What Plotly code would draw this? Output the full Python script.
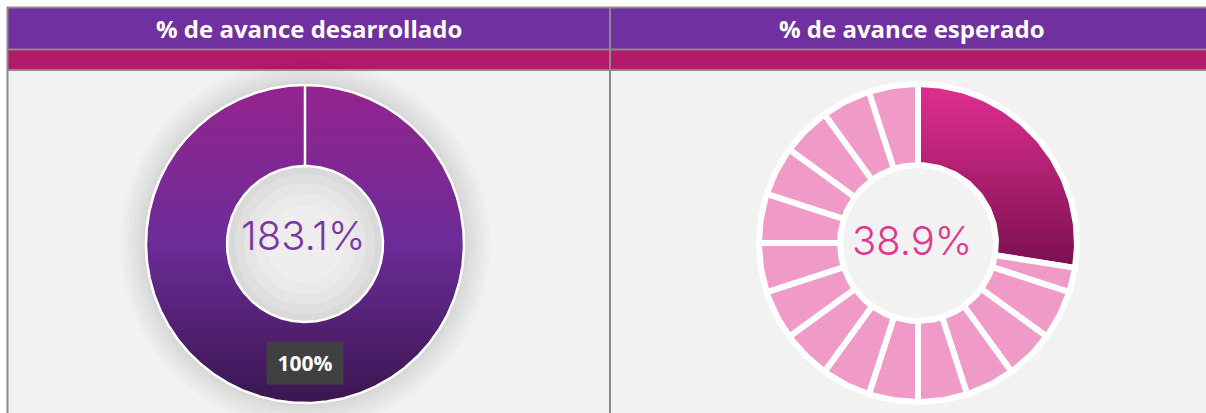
import numpy as np
import plotly.graph_objects as go

# ---------------- data ----------------
titles = ["% de avance desarrollado", "% de avance esperado"]
developed_values = [100]
developed_labels = ["100%"]
developed_center = "183.1%"
expected_values = [27.5, 2.5, 5, 5, 5, 5, 5, 5, 5, 5, 5, 5, 5, 5, 5, 5]
expected_center = "38.9%"

# ---------------- style ----------------
W, H = 1206, 413
PURPLE = "#7030A0"
MAGENTA = "#B31A69"
GRAY_LINE = "#8A8A8A"
PANEL_BG = "#F2F2F2"

L_CX, L_CY, L_R, L_RI = 305, 244, 159, 78
R_CX, R_CY, R_R, R_RI = 918, 243, 159, 78


def ring(cx, cy, r_in, r_out, a0, a1):
    n = max(int(abs(a1 - a0)) * 2, 8)
    t = np.radians(np.linspace(a0, a1, n))
    xo, yo = cx + r_out * np.sin(t), cy - r_out * np.cos(t)
    xi, yi = cx + r_in * np.sin(t[::-1]), cy - r_in * np.cos(t[::-1])
    x = np.concatenate([xo, xi, xo[:1]])
    y = np.concatenate([yo, yi, yo[:1]])
    return x, y


def angles(values):
    tot = float(sum(values))
    cum = np.concatenate([[0], np.cumsum(values)]) / tot * 360.0
    return list(zip(cum[:-1], cum[1:]))


fig = go.Figure()
shapes = []

# panel backgrounds / headers
shapes += [
    dict(type="rect", x0=8, x1=W, y0=70, y1=H, fillcolor=PANEL_BG, line_width=0, layer="below"),
    dict(type="rect", x0=8, x1=W, y0=8, y1=49, fillcolor=PURPLE, line_width=0, layer="below"),
    dict(type="rect", x0=8, x1=W, y0=50, y1=70, fillcolor=MAGENTA, line_width=0, layer="below"),
]

# soft halo around left donut
for extra in [26, 22, 18, 14, 10, 6, 3]:
    rr = L_R + extra
    shapes.append(dict(type="circle", x0=L_CX - rr, x1=L_CX + rr, y0=L_CY - rr, y1=L_CY + rr,
                       fillcolor="rgba(0,0,0,0.016)", line_width=0, layer="below"))
# shaded hole of left donut
for frac, col in [(1.0, "#D9D9D9"), (0.9, "#DFDFDF"), (0.78, "#E5E5E5"), (0.65, "#EAEAEA"), (0.5, "#EEEEEE")]:
    rr = L_RI * frac
    shapes.append(dict(type="circle", x0=L_CX - rr, x1=L_CX + rr, y0=L_CY - rr, y1=L_CY + rr,
                       fillcolor=col, line_width=0, layer="below"))

# left donut
for (a0, a1) in angles(developed_values):
    x, y = ring(L_CX, L_CY, L_RI, L_R, a0, a1)
    fig.add_trace(go.Scatter(
        x=x, y=y, mode="lines", fill="toself",
        line=dict(color="white", width=2.5),
        fillgradient=dict(type="vertical", start=float(y.min()), stop=float(y.max()),
                          colorscale=[[0, "#95248F"], [0.5, "#6B2C97"], [1, "#3A1650"]]),
        hoverinfo="skip", showlegend=False))

# right donut
for i, (a0, a1) in enumerate(angles(expected_values)):
    x, y = ring(R_CX, R_CY, R_RI, R_R, a0, a1)
    if i == 0:
        fig.add_trace(go.Scatter(
            x=x, y=y, mode="lines", fill="toself",
            line=dict(color="white", width=6),
            fillgradient=dict(type="vertical", start=float(y.min()), stop=float(y.max()),
                              colorscale=[[0, "#E02F8F"], [1, "#7A1050"]]),
            hoverinfo="skip", showlegend=False))
    else:
        fig.add_trace(go.Scatter(
            x=x, y=y, mode="lines", fill="toself", fillcolor="#F09AC8",
            line=dict(color="white", width=6),
            hoverinfo="skip", showlegend=False))

# grid lines
shapes += [
    dict(type="line", x0=7, x1=W, y0=7.5, y1=7.5, line=dict(color=GRAY_LINE, width=2)),
    dict(type="line", x0=7, x1=W, y0=49.5, y1=49.5, line=dict(color=GRAY_LINE, width=2)),
    dict(type="line", x0=7, x1=W, y0=70, y1=70, line=dict(color=GRAY_LINE, width=2)),
    dict(type="line", x0=7.5, x1=7.5, y0=7, y1=H, line=dict(color=GRAY_LINE, width=2)),
    dict(type="line", x0=610, x1=610, y0=7, y1=H, line=dict(color=GRAY_LINE, width=2)),
]

annotations = [
    dict(x=309, y=28, text="<b>%s</b>" % titles[0], showarrow=False,
         font=dict(family="Open Sans", size=24, color="white")),
    dict(x=912, y=28, text="<b>%s</b>" % titles[1], showarrow=False,
         font=dict(family="Open Sans", size=24, color="white")),
    dict(x=L_CX - 2, y=L_CY - 9, text=developed_center, showarrow=False,
         font=dict(family="Inter", size=40, color="#7A35A5", weight=300)),
    dict(x=R_CX - 6, y=R_CY - 3, text=expected_center, showarrow=False,
         font=dict(family="Inter", size=40, color="#E2358F", weight=300)),
]

# slice label for the developed donut (middle of slice)
for (a0, a1), lab in zip(angles(developed_values), developed_labels):
    am = np.radians((a0 + a1) / 2)
    rm = (L_RI + L_R) / 2
    annotations.append(dict(
        x=L_CX + rm * np.sin(am), y=L_CY - rm * np.cos(am), text="<b>%s</b>" % lab,
        showarrow=False, bgcolor="#404040", width=70, height=36, borderpad=3,
        font=dict(family="Open Sans", size=21, color="white")))

fig.update_layout(
    width=W, height=H, margin=dict(l=0, r=0, t=0, b=0),
    paper_bgcolor="white", plot_bgcolor="white",
    xaxis=dict(range=[0, W], visible=False, fixedrange=True),
    yaxis=dict(range=[H, 0], visible=False, fixedrange=True),
    shapes=shapes, annotations=annotations, showlegend=False,
)

fig.write_html("out.html")
